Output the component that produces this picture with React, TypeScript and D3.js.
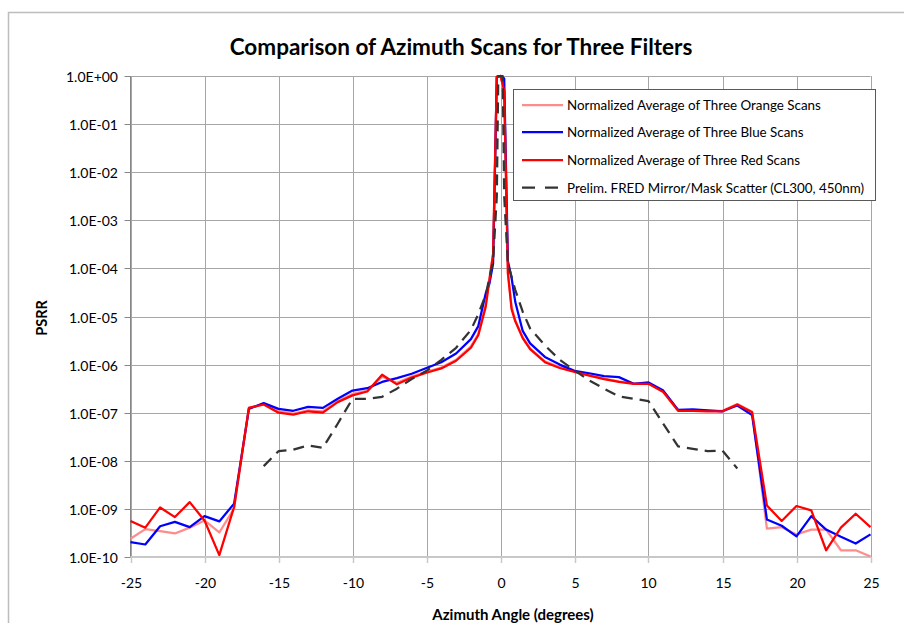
import React from "react";
import * as d3 from "d3";

const xs = [-25,-24,-23,-22,-21,-20,-19,-18,-17,-16,-15,-14,-13,-12,-11,-10,-9,-8,-7,-6,-5,-4,-3,-2,-1.5,-1,-0.75,-0.5,-0.25,0,0.25,0.5,0.75,1,1.5,2,3,4,5,6,7,8,9,10,11,12,13,14,15,16,17,18,19,20,21,22,23,24,25];

// log10(PSRR)
const orangeLog = [-9.62,-9.42,-9.46,-9.51,-9.39,-9.24,-9.49,-8.99,-6.90,-6.82,-6.97,-7.02,-6.95,-6.97,-6.76,-6.61,-6.54,-6.25,-6.38,-6.25,-6.15,-6.06,-5.90,-5.62,-5.36,-4.75,-4.20,-3.70,-0.02,0,-0.3,-4.1,-4.8,-5.08,-5.43,-5.66,-5.93,-6.05,-6.14,-6.22,-6.29,-6.35,-6.39,-6.39,-6.56,-6.95,-6.95,-6.96,-6.96,-6.82,-6.98,-9.41,-9.38,-9.53,-9.43,-9.43,-9.86,-9.86,-9.99];
const blueLog = [-9.69,-9.74,-9.36,-9.27,-9.38,-9.15,-9.26,-8.89,-6.92,-6.80,-6.92,-6.96,-6.88,-6.90,-6.71,-6.54,-6.49,-6.36,-6.28,-6.19,-6.07,-5.95,-5.77,-5.47,-5.20,-4.52,-4.32,-3.90,-0.02,0,-0.05,-3.85,-4.2,-4.7,-5.3,-5.56,-5.84,-6.0,-6.13,-6.18,-6.24,-6.26,-6.40,-6.37,-6.54,-6.94,-6.93,-6.95,-6.97,-6.85,-7.05,-9.22,-9.35,-9.57,-9.15,-9.43,-9.58,-9.72,-9.53];
const redLog = [-9.25,-9.39,-8.97,-9.17,-8.86,-9.24,-9.96,-8.96,-6.90,-6.83,-7.00,-7.04,-6.97,-7.00,-6.78,-6.64,-6.56,-6.21,-6.41,-6.27,-6.17,-6.08,-5.92,-5.65,-5.39,-4.80,-4.25,-3.70,-0.02,0,-0.3,-4.1,-4.85,-5.1,-5.45,-5.68,-5.95,-6.07,-6.15,-6.23,-6.30,-6.36,-6.40,-6.40,-6.57,-6.96,-6.96,-6.97,-6.97,-6.83,-6.99,-8.93,-9.25,-8.94,-9.03,-9.86,-9.39,-9.10,-9.38];

const fredX = [-16,-15,-14,-13,-12,-11,-10,-9,-8,-7,-6,-5,-4,-3,-2,-1.5,-1,-0.5,-0.25,-0.15,0,0.15,0.25,0.5,1,1.5,2,3,4,5,6,7,8,9,10,11,12,13,14,15,16];
const fredLog = [-8.11,-7.80,-7.77,-7.68,-7.73,-7.23,-6.71,-6.71,-6.67,-6.50,-6.30,-6.13,-5.90,-5.65,-5.28,-4.95,-4.55,-3.85,-2.5,0,0,0,-2.5,-3.9,-4.45,-4.9,-5.25,-5.60,-5.90,-6.12,-6.33,-6.50,-6.66,-6.71,-6.76,-7.23,-7.70,-7.75,-7.80,-7.79,-8.16];

const xTicks = [-25,-20,-15,-10,-5,0,5,10,15,20,25];
const yTicks = [0,-1,-2,-3,-4,-5,-6,-7,-8,-9,-10];
const yTickLabels = ["1.0E+00","1.0E-01","1.0E-02","1.0E-03","1.0E-04","1.0E-05","1.0E-06","1.0E-07","1.0E-08","1.0E-09","1.0E-10"];

const legendNames = [
  "Normalized Average of Three Orange Scans",
  "Normalized Average of Three Blue Scans",
  "Normalized Average of Three Red Scans",
  "Prelim. FRED Mirror/Mask Scatter (CL300, 450nm)",
];

const FONT = "Lato, 'Open Sans', sans-serif";

export default function App() {
  const W = 904, H = 623;
  const left = 130.5, right = 870.5, top = 76, bottom = 557;
  const x = d3.scaleLinear().domain([-25, 25]).range([left, right]);
  const y = d3.scaleLog().domain([1e-10, 1]).range([bottom, top]);

  const mk = (xv: number[], lv: number[]) =>
    d3.line<number>().x((_, i) => x(xv[i])).y((v) => y(Math.pow(10, v)))(lv) || "";

  const series = [
    { d: mk(xs, orangeLog), color: "#ff8c8c", dash: undefined },
    { d: mk(xs, blueLog), color: "#0000ff", dash: undefined },
    { d: mk(xs, redLog), color: "#ff0000", dash: undefined },
    { d: mk(fredX, fredLog), color: "#333333", dash: "11,7" },
  ];

  const legX = 513.5, legY = 89.5, legW = 362, legH = 111;
  const rowY = [105, 132, 160, 187.5];

  return (
    <svg width={W} height={H} style={{ position: "absolute", left: 0, top: 0, background: "#fff" }}>
      <rect x={8.5} y={12.5} width={W + 20} height={H + 20} fill="#fff" stroke="#bdbdbd" strokeWidth={1.5} />
      <text x={461} y={55} textAnchor="middle" fontFamily={FONT} fontWeight="bold" fontSize={22.5} fill="#000">
        Comparison of Azimuth Scans for Three Filters
      </text>
      {/* grid */}
      {xTicks.map((t) => (
        <line key={"gx" + t} x1={Math.round(x(t)) + 0.5} x2={Math.round(x(t)) + 0.5} y1={top} y2={bottom} stroke="#a6a6a6" strokeWidth={1} />
      ))}
      {yTicks.map((t) => (
        <line key={"gy" + t} x1={left} x2={right} y1={Math.round(y(Math.pow(10, t))) + 0.5} y2={Math.round(y(Math.pow(10, t))) + 0.5} stroke="#a6a6a6" strokeWidth={1} />
      ))}
      {/* axes */}
      <line x1={left} x2={left} y1={top} y2={bottom} stroke="#868686" strokeWidth={1} />
      <line x1={left} x2={right} y1={bottom} y2={bottom} stroke="#c8c8c8" strokeWidth={2} />
      {yTicks.map((t, i) => {
        const yy = Math.round(y(Math.pow(10, t))) + 0.5;
        return (
          <g key={"yt" + t}>
            <line x1={left - 6} x2={left} y1={yy} y2={yy} stroke="#868686" />
            <text x={118} y={yy + 5} textAnchor="end" fontFamily={FONT} fontSize={14} fill="#000">
              {yTickLabels[i]}
            </text>
          </g>
        );
      })}
      {xTicks.map((t) => {
        const xx = Math.round(x(t)) + 0.5;
        return (
          <g key={"xt" + t}>
            <line x1={xx} x2={xx} y1={bottom} y2={bottom + 6} stroke="#c8c8c8" strokeWidth={1.5} />
            <text x={xx} y={588} textAnchor="middle" fontFamily={FONT} fontSize={14} fill="#000">
              {t}
            </text>
          </g>
        );
      })}
      <text x={513} y={620} textAnchor="middle" fontFamily={FONT} fontWeight="bold" fontSize={15} fill="#000">
        Azimuth Angle (degrees)
      </text>
      <text transform="translate(47,318) rotate(-90)" textAnchor="middle" fontFamily={FONT} fontWeight="bold" fontSize={14.5} fill="#000">
        PSRR
      </text>
      {/* series */}
      <g>
        {series.map((s, i) => (
          <path key={i} d={s.d} fill="none" stroke={s.color} strokeWidth={2.25} strokeDasharray={s.dash} strokeLinejoin="round" />
        ))}
      </g>
      {/* legend */}
      <rect x={legX} y={legY} width={legW} height={legH} fill="#fff" stroke="#595959" strokeWidth={1} />
      {legendNames.map((n, i) => (
        <g key={n}>
          <line x1={522} x2={563} y1={rowY[i]} y2={rowY[i]} stroke={series[i].color} strokeWidth={2.25} strokeDasharray={i === 3 ? "13,10" : undefined} />
          <text x={567} y={rowY[i] + 5} fontFamily={FONT} fontSize={13.4} fill="#000">
            {n}
          </text>
        </g>
      ))}
    </svg>
  );
}
